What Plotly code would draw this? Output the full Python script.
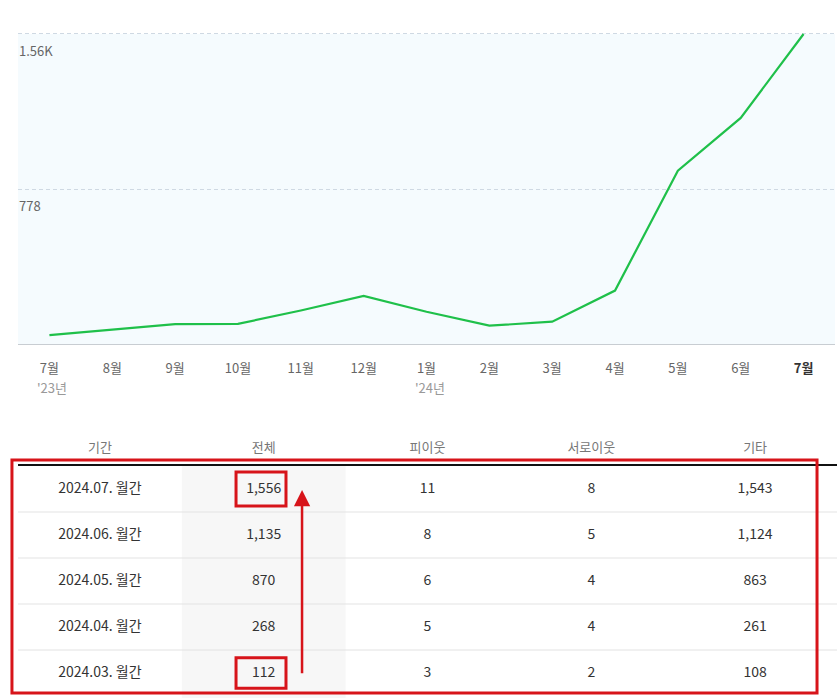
import plotly.graph_objects as go

# ---------------- data ----------------
months = ["7월", "8월", "9월", "10월", "11월", "12월", "1월", "2월", "3월", "4월", "5월", "6월", "7월"]
year_marks = {0: "'23년", 6: "'24년"}
visits = [45, 72, 100, 101, 168, 241, 162, 92, 112, 268, 870, 1135, 1556]
y_tick_vals = [778, 1556]
y_tick_text = ["778", "1.56K"]

table_header = ["기간", "전체", "피이웃", "서로이웃", "기타"]
periods = ["2024.07. 월간", "2024.06. 월간", "2024.05. 월간", "2024.04. 월간", "2024.03. 월간"]
total = ["1,556", "1,135", "870", "268", "112"]
neighbor = ["11", "8", "6", "5", "3"]
mutual = ["8", "5", "4", "4", "2"]
other = ["1,543", "1,124", "863", "261", "108"]

W, H = 837, 698
FONT = "Noto Sans CJK KR"
RED = "#d7141a"

def py(px):  # pixel from top -> paper y
    return (H - px) / H

fig = go.Figure()

# ---------------- line chart ----------------
xi = list(range(len(months)))
fig.add_trace(go.Scatter(
    x=xi, y=visits, mode="lines",
    line=dict(color="#1fc04a", width=2.2),
    xaxis="x", yaxis="y", hoverinfo="skip", showlegend=False, cliponaxis=False,
))

ticktext = [m if i < len(months) - 1 else "<b><span style='color:#333'>" + m + "</span></b>"
            for i, m in enumerate(months)]

for v, t in zip(y_tick_vals, y_tick_text):
    fig.add_annotation(x=0, xref="paper", y=v, yref="y", text=t, showarrow=False,
                       xanchor="left", yanchor="top", xshift=17, yshift=-5,
                       font=dict(family=FONT, size=13, color="#666"))
for i, t in year_marks.items():
    fig.add_annotation(x=i, xref="x", y=py(387), yref="paper", text=t, showarrow=False,
                       xanchor="left", yanchor="middle", xshift=-14,
                       font=dict(family=FONT, size=13, color="#999"))

# ---------------- table (drawn on its own axes) ----------------
cols = [periods, total, neighbor, mutual, other]
for c, values in enumerate(cols):
    fig.add_trace(go.Scatter(
        x=[c] * len(values), y=list(range(len(values))), mode="text", text=values,
        textfont=dict(family=FONT, size=14, color="#333"), textposition="middle center",
        xaxis="x2", yaxis="y2", hoverinfo="skip", showlegend=False, cliponaxis=False,
    ))
fig.add_trace(go.Scatter(
    x=list(range(len(table_header))), y=[-0.87] * len(table_header), mode="text", text=table_header,
    textfont=dict(family=FONT, size=13, color="#777"), textposition="middle center",
    xaxis="x2", yaxis="y2", hoverinfo="skip", showlegend=False, cliponaxis=False,
))

shapes = []
# light blue plot background for the line chart area (starts at the top gridline)
shapes.append(dict(type="rect", xref="x domain", yref="y", x0=0, x1=1, y0=0, y1=1556,
                   fillcolor="#f5fbfe", line=dict(width=0), layer="below"))
# grey highlighted column
shapes.append(dict(type="rect", xref="x2", yref="y2", x0=0.5, x1=1.5, y0=-0.52, y1=4.543,
                   fillcolor="#f7f7f7", line=dict(width=0), layer="below"))
# row separators
for r in range(len(periods) - 1):
    shapes.append(dict(type="line", xref="x2", yref="y2", x0=-0.5, x1=4.5, y0=r + 0.5, y1=r + 0.5,
                       line=dict(color="#e3e3e3", width=1)))
# header rule
shapes.append(dict(type="line", xref="x2", yref="y2", x0=-0.5, x1=4.5, y0=-0.522, y1=-0.522,
                   line=dict(color="#111", width=2)))
# red outline boxes
shapes.append(dict(type="rect", xref="x2", yref="y2", x0=-0.537, x1=4.378, y0=-0.63, y1=4.435,
                   line=dict(color=RED, width=3)))
shapes.append(dict(type="rect", xref="x2", yref="y2", x0=0.831, x1=1.136, y0=-0.37, y1=0.37,
                   line=dict(color=RED, width=3)))
shapes.append(dict(type="rect", xref="x2", yref="y2", x0=0.831, x1=1.136, y0=3.67, y1=4.33,
                   line=dict(color=RED, width=3)))

fig.add_annotation(x=1.234, y=0.02, xref="x2", yref="y2", ax=1.234, ay=4.04, axref="x2", ayref="y2",
                   showarrow=True, arrowhead=2, arrowsize=1.3, arrowwidth=2.5, arrowcolor=RED, text="")

fig.update_layout(
    width=W, height=H, margin=dict(l=0, r=0, t=0, b=0),
    paper_bgcolor="white", plot_bgcolor="rgba(0,0,0,0)",
    shapes=shapes,
    xaxis=dict(domain=[18 / W, 835 / W], range=[-0.5, 12.5], tickmode="array", tickvals=xi,
               ticktext=ticktext, ticks="", ticklabelstandoff=12, showgrid=False, zeroline=False,
               showline=True, linecolor="#c8cdd2", linewidth=1, fixedrange=True,
               tickfont=dict(family=FONT, size=13, color="#666"), anchor="y"),
    yaxis=dict(domain=[py(344), py(32.0)], range=[0, 1566], tickmode="array", tickvals=y_tick_vals,
               showticklabels=False, showgrid=True, gridcolor="#cfd9e3", griddash="4px,3px", gridwidth=1,
               zeroline=False, fixedrange=True, anchor="x"),
    xaxis2=dict(domain=[0, 1.0], range=[-0.61, 4.5], visible=False, fixedrange=True, anchor="y2"),
    yaxis2=dict(domain=[0, py(420)], range=[4.543, -1.5], visible=False, fixedrange=True, anchor="x2"),
)

fig.write_html("out.html", config={"displayModeBar": False},
               post_script="document.body.style.margin='0';document.body.style.overflow='hidden';")
